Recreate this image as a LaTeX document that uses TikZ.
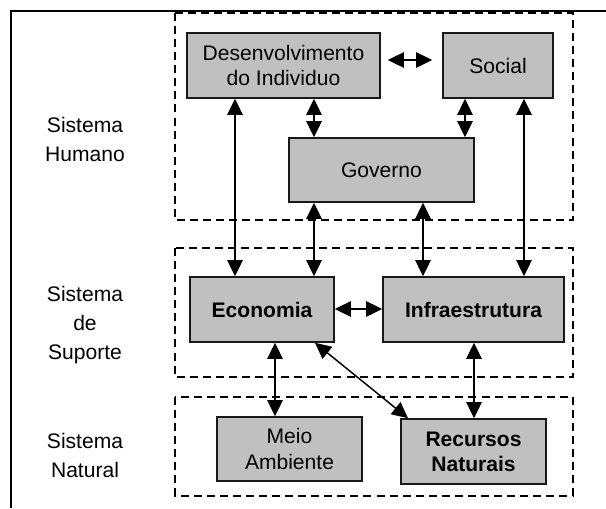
\documentclass[tikz,border=0pt]{standalone}
\usepackage{fontspec}
\setmainfont{Liberation Sans}
\usetikzlibrary{arrows.meta}
\begin{document}
\begin{tikzpicture}[x=0.75pt,y=-0.75pt,
  box/.style={draw=black!90,line width=1.2pt,fill={rgb,255:red,192;green,192;blue,192},inner sep=0pt,align=center,font=\fontsize{15.8pt}{18.9pt}\selectfont},
  boldbox/.style={box,font=\fontsize{15.8pt}{18.9pt}\selectfont\bfseries},
  grp/.style={draw=black,line width=1.1pt,dash pattern=on 6pt off 3.8pt},
  lab/.style={align=center,inner sep=0pt,font=\fontsize{15.8pt}{21.75pt}\selectfont},
  arr/.style={line width=1.1pt,{Triangle[length=12pt,width=11.5pt]}-{Triangle[length=12pt,width=11.5pt]}}]
\useasboundingbox (0,0) rectangle (606,508);
% outer frame (top and left only)
\draw[line width=1.6pt] (11,508) -- (11,11) -- (606,11);
% group boxes
\draw[grp] (175,13) rectangle (573,220);
\draw[grp] (175,248) rectangle (573,377);
\draw[grp] (175,397) rectangle (573,496);
% labels
\node[lab] (lhum) at (85,139) {Sistema\\Humano};
\node[lab] (lsup) at (85,325) {Sistema\\de\\Suporte};
\node[lab] (lnat) at (85,455) {Sistema\\Natural};
% nodes
\node[box,minimum width=144.75pt,minimum height=48.75pt] (des) at (283.5,65.5) {Desenvolvimento\\do Individuo};
\node[box,minimum width=82.5pt,minimum height=48.75pt] (soc) at (498,65.5) {Social};
\node[box,minimum width=138.75pt,minimum height=48pt] (gov) at (381.5,170) {Governo};
\node[boldbox,minimum width=108pt,minimum height=48.75pt] (eco) at (262,309.5) {Economia};
\node[boldbox,minimum width=135.75pt,minimum height=48.75pt] (inf) at (473.5,309.5) {Infraestrutura};
\node[box,minimum width=108.75pt,minimum height=48pt] (mei) at (289.5,449) {Meio\\Ambiente};
\node[boldbox,minimum width=108.75pt,minimum height=48.75pt] (rec) at (473.5,451.5) {Recursos\\Naturais};
% connectors
\draw[arr,shorten <=5.25pt,shorten >=7.5pt] (des.east |- 0,60) -- (soc.west |- 0,60);
\draw[arr] (des.south -| 314,0) -- (gov.north -| 314,0);
\draw[arr] (soc.south -| 465,0) -- (gov.north -| 465,0);
\draw[arr] (des.south -| 235,0) -- (eco.north -| 235,0);
\draw[arr] (gov.south -| 314,0) -- (eco.north -| 314,0);
\draw[arr] (gov.south -| 423,0) -- (inf.north -| 423,0);
\draw[arr] (soc.south -| 524,0) -- (inf.north -| 524,0);
\draw[arr] (eco.east |- 0,309) -- (inf.west |- 0,309);
\draw[arr] (eco.south -| 275,0) -- (mei.north -| 275,0);
\draw[arr] (eco.south -| 315,0) -- (rec.north -| 408,0);
\draw[arr] (inf.south -| 474,0) -- (rec.north -| 474,0);
\end{tikzpicture}
\end{document}
